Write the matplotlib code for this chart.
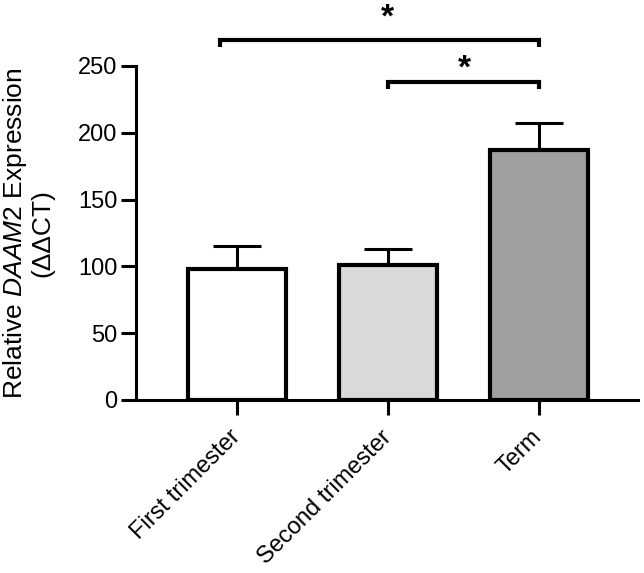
import matplotlib
matplotlib.use("Agg")
import matplotlib.pyplot as plt
import numpy as np

plt.rcParams['font.family'] = ['Liberation Sans', 'DejaVu Sans']
plt.rcParams['mathtext.fontset'] = 'custom'
plt.rcParams['mathtext.rm'] = 'Liberation Sans'
plt.rcParams['mathtext.it'] = 'Liberation Sans:italic'

# data
groups = ["First trimester", "Second trimester", "Term"]
means = [98, 101, 187]
sems = [17, 12, 20]
colors = ["#ffffff", "#d9d9d9", "#a0a0a0"]
# significance brackets: (from, to, height, star x, star y)
brackets = [(-0.11, 2, 269.5, 1.0, 274), (1, 2, 238, 1.51, 236)]

fig = plt.figure(figsize=(6.44, 5.73), dpi=100)
ax = fig.add_axes([0.211, 0.302, 0.78, 0.583])

x = np.arange(len(groups))
ax.bar(x, means, width=0.65, color=colors, edgecolor="black", linewidth=3.0, zorder=3)
ax.errorbar(x, means, yerr=[np.zeros(3), sems], fmt="none", ecolor="black",
            elinewidth=2.2, capsize=17.5, capthick=2.2, zorder=2)

ax.set_xlim(-0.67, 2.66)
ax.set_ylim(0, 250)
ax.set_yticks([0, 50, 100, 150, 200, 250])
ax.set_xticks(x)
ax.set_xticklabels(groups, rotation=45, ha="right", va="center",
                   rotation_mode="anchor", fontsize=17.5)

for s in ["top", "right"]:
    ax.spines[s].set_visible(False)
for s in ["left", "bottom"]:
    ax.spines[s].set_linewidth(2.2)
ax.tick_params(axis="both", width=2.2, length=10.5, labelsize=17, pad=3)
ax.tick_params(axis="x", pad=14)

ax.set_ylabel("Relative $\\mathit{DAAM2}$ Expression\n(ΔΔCT)", fontsize=19,
              linespacing=1.1)
ax.yaxis.set_label_coords(-0.162, 0.5)

for x0, x1, h, sx, sy in brackets:
    ax.plot([x0, x0, x1, x1], [h - 5.5, h, h, h - 5.5], color="black", lw=3,
            clip_on=False, solid_capstyle="butt", solid_joinstyle="miter")
    ax.text(sx, sy, "*", ha="center", va="bottom", fontsize=24,
            fontweight="bold")

fig.savefig("out.png", dpi=100)
